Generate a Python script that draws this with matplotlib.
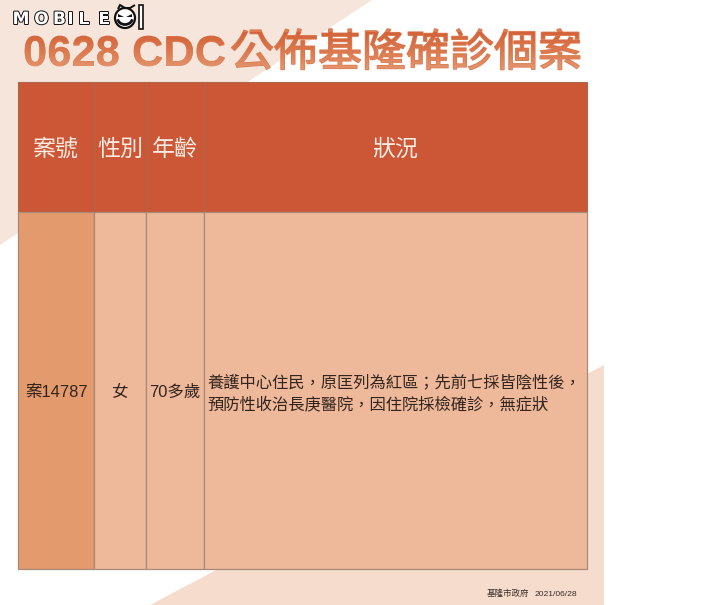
import numpy as np
import matplotlib
matplotlib.use("Agg")
import matplotlib.pyplot as plt
from matplotlib.colors import LinearSegmentedColormap
from matplotlib.font_manager import FontProperties
from matplotlib.patches import Arc, Circle, PathPatch, Polygon, Rectangle
from matplotlib.path import Path
from matplotlib.textpath import TextPath
from matplotlib.transforms import Affine2D
import matplotlib.patheffects as pe

title_latin = "0628 CDC"
title_cjk = "公佈基隆確診個案"
headers = ["案號", "性別", "年齡", "狀況"]
case_id = "案14787"
gender = "女"
age = "70多歲"
status_lines = ["養護中心住民\uff0c原匡列為紅區\uff1b先前七採皆陰性後\uff0c",
                "預防性收治長庚醫院\uff0c因住院採檢確診\uff0c無症狀"]
footer_org = "基隆市政府"
footer_date = "2021/06/28"
logo_letters = ["M", "O", "B", "I", "L", "E"]

col_edges = [18, 94, 146, 204, 587]
row_edges = [82, 212, 569]
cjk = ["Liberation Sans", "Noto Sans CJK TC", "DejaVu Sans"]


def px(size):
    # sizes below are in image pixels, the figure is 100 dpi
    return size * 72 / 100


fig = plt.figure(figsize=(7.2, 6.05), dpi=100)
ax = fig.add_axes([0, 0, 1, 1])
ax.set_xlim(0, 720)
ax.set_ylim(605, 0)
ax.axis("off")

# background triangles
ax.add_patch(Polygon([(0, 0), (372, 0), (0, 245)], fc="#F6E5DB", ec="none"))
ax.add_patch(Polygon([(604, 365), (604, 605), (150, 605)], fc="#F5DCCD", ec="none"))

# title, real text with a gradient laid over it
ax.text(23, 66, title_latin, fontsize=px(43.5), fontweight="bold", family="Liberation Sans",
        color="#DD7C52", ha="left", va="baseline")
thick = [pe.withStroke(linewidth=1.1, foreground="#DD7C52")]
ax.text(230, 66, title_cjk, fontsize=px(44), family="Noto Sans CJK TC",
        color="#DD7C52", ha="left", va="baseline", path_effects=thick)
path_a = TextPath((0, 0), title_latin, size=43.5,
                  prop=FontProperties(family="Liberation Sans", weight="bold"))
path_b = TextPath((0, 0), title_cjk, size=44, prop=FontProperties(family="Noto Sans CJK TC"))
title_path = Path.make_compound_path(path_a.transformed(Affine2D().translate(23, 0)),
                                     path_b.transformed(Affine2D().translate(230, 0)))
title_patch = PathPatch(title_path, fc="none", ec="none",
                        transform=Affine2D().scale(1, -1).translate(0, 66) + ax.transData)
ax.add_patch(title_patch)
grad = LinearSegmentedColormap.from_list("title", ["#D2623A", "#DC7A4F", "#E59A74"])
img = ax.imshow(np.linspace(0, 1, 64).reshape(-1, 1), cmap=grad, aspect="auto",
                extent=(0, 720, 72, 32), zorder=3)
img.set_clip_path(title_patch)
ax.set_xlim(0, 720)
ax.set_ylim(605, 0)

# table cells
line_col = "#A88A78"
body_cols = ["#E39A6C", "#EEB89A", "#EEB89A", "#EEB89A"]
for i in range(4):
    x0, x1 = col_edges[i], col_edges[i + 1]
    ax.add_patch(Rectangle((x0, row_edges[0]), x1 - x0, row_edges[1] - row_edges[0],
                           fc="#CC5736", ec="#A9694F", lw=0.8))
    ax.add_patch(Rectangle((x0, row_edges[1]), x1 - x0, row_edges[2] - row_edges[1],
                           fc=body_cols[i], ec=line_col, lw=0.9))
    ax.text((x0 + x1) / 2, 149, headers[i], fontsize=px(23), family=cjk, color="#FBEBE2",
            ha="center", va="center")

text_col = "#33251D"
ax.text(56, 392, case_id, fontsize=px(16.5), family=cjk, color=text_col, ha="center", va="center")
ax.text(120, 392, gender, fontsize=px(16.5), family=cjk, color=text_col, ha="center", va="center")
ax.text(175, 392, age, fontsize=px(16.5), family=cjk, color=text_col, ha="center", va="center")
ax.text(207, 382, status_lines[0], fontsize=px(16.3), family=cjk, color=text_col, ha="left", va="center")
ax.text(207, 404, status_lines[1], fontsize=px(16.3), family=cjk, color=text_col, ha="left", va="center")

# footer
ax.text(487, 594, footer_org, fontsize=px(8.5), family=cjk, color="#3A2C24", ha="left", va="center")
ax.text(577, 594, footer_date, fontsize=px(8.5), family=cjk, color="#3A2C24", ha="right", va="center")

# logo
outline = [pe.withStroke(linewidth=1.4, foreground="#111111")]
letter_x = [21, 41.5, 59.5, 70.5, 84, 104]
for ch, lx in zip(logo_letters, letter_x):
    ax.text(lx, 24, ch, fontsize=px(17), fontweight="bold", family="DejaVu Sans", color="white",
            ha="center", va="baseline", path_effects=outline)
ax.add_patch(Circle((125, 18), 10, fc="white", ec="#111111", lw=1.6))
ax.add_patch(Arc((125, 18), 15, 13, theta1=10, theta2=170, ec="#111111", lw=2))
ax.add_patch(Polygon([(118, 14), (124, 17), (118, 17)], fc="#111111", ec="none"))
ax.add_patch(Polygon([(132, 14), (126, 17), (132, 17)], fc="#111111", ec="none"))
ax.add_patch(PathPatch(Path([(118, 9), (120, 5), (125, 8), (130, 8), (135, 5)]),
                       fc="none", ec="#111111", lw=1.4))
ax.add_patch(Rectangle((139, 5), 4, 24, fc="white", ec="#111111", lw=1.2))

fig.savefig("out.png", dpi=100, facecolor="white")
